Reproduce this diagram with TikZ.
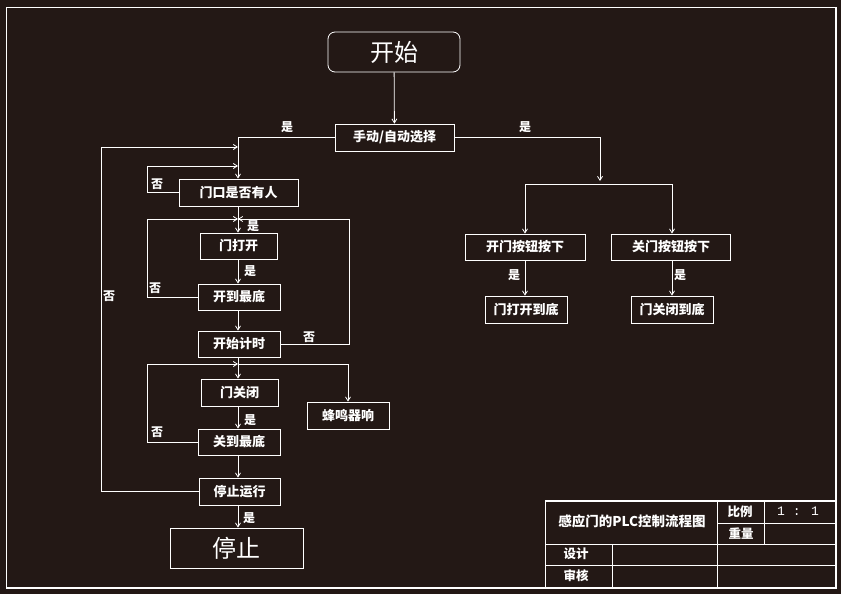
\documentclass[tikz,border=0pt]{standalone}
\usepackage{fontspec}
\setmainfont{Noto Sans CJK SC}
\newfontfamily\monof{Liberation Mono}
\usetikzlibrary{arrows.meta}
\definecolor{bg}{RGB}{35,24,21}
\begin{document}
\begin{tikzpicture}[x=1pt,y=-1pt,line width=0.8pt,white,
  box/.style={draw,line width=0.8pt,inner sep=0pt,text=white,
    font=\fontsize{13}{15}\selectfont\bfseries},
  lbl/.style={inner sep=0pt,text=white,font=\fontsize{12}{14}\selectfont\bfseries},
  tb/.style={inner sep=0pt,text=white,font=\fontsize{12.5}{14}\selectfont\bfseries},
  arr/.style={-{Straight Barb[length=4pt,width=5pt]}}]
\fill[bg] (0,0) rectangle (841,594);
\useasboundingbox (0,0) rectangle (841,594);
\draw[line width=1.5pt] (6.5,7.5) rectangle (836,588);

% nodes
\node[box,rounded corners=7pt,minimum width=132,minimum height=40,
  font=\fontsize{24}{26}\selectfont] (start) at (394,52) {开始};
\node[box,minimum width=119,minimum height=27] (sel) at (394.5,137.5) {手动/自动选择};
\node[box,minimum width=119,minimum height=27] (door) at (238.5,192.5) {门口是否有人};
\node[box,minimum width=77,minimum height=26] (open) at (238.5,246) {门打开};
\node[box,minimum width=82,minimum height=26] (obot) at (239,297) {开到最底};
\node[box,minimum width=82,minimum height=26] (timer) at (239,344) {开始计时};
\node[box,minimum width=77,minimum height=27] (close) at (239.5,392.5) {门关闭};
\node[box,minimum width=82,minimum height=27] (buzz) at (348,415.5) {蜂鸣器响};
\node[box,minimum width=82,minimum height=26] (cbot) at (239,442) {关到最底};
\node[box,minimum width=81,minimum height=27] (run) at (239.5,491.5) {停止运行};
\node[box,minimum width=133,minimum height=40,
  font=\fontsize{24}{26}\selectfont] (stop) at (236.5,548) {停止};
\node[box,minimum width=120,minimum height=26] (obtn) at (525,247) {开门按钮按下};
\node[box,minimum width=119,minimum height=26] (cbtn) at (671,247) {关门按钮按下};
\node[box,minimum width=82,minimum height=27] (oend) at (526,309.5) {门打开到底};
\node[box,minimum width=82,minimum height=27] (cend) at (672,309.5) {门关闭到底};

% coordinates
\coordinate (c1) at (238,137.5);
\coordinate (c2) at (238,147);
\coordinate (c3) at (238,166);
\coordinate (c4) at (238,219);
\coordinate (c5) at (238,364);
\coordinate (r1) at (600,137.5);
\coordinate (r2) at (600,181);
\coordinate (r3) at (525,184);
\coordinate (r4) at (672,184);
\coordinate (l1) at (101,491.5);
\coordinate (l2) at (101,147);
\coordinate (m1) at (147,192.5);
\coordinate (m2) at (147,166);
\coordinate (n1) at (147,297);
\coordinate (n2) at (147,219);
\coordinate (p1) at (349,344);
\coordinate (p2) at (349,219);
\coordinate (q1) at (147,442);
\coordinate (q2) at (147,364);
\coordinate (s1) at (348,364);

% connectors
\draw[arr] (start) -- (sel);
\draw[arr] (sel.west) -- (c1) -- (c1 |- door.north);
\draw[arr] (run.west) -- (l1) -- (l2) -- (c2);
\draw[arr] (door.west) -- (m1) -- (m2) -- (c3);
\draw[arr] (door.south -| c1) -- (c1 |- open.north);
\draw[arr] (obot.west) -- (n1) -- (n2) -- (c4);
\draw[arr] (timer.east) -- (p1) -- (p2) -- (c4);
\draw[arr] (open.south -| c1) -- (c1 |- obot.north);
\draw[arr] (obot.south -| c1) -- (c1 |- timer.north);
\draw[arr] (timer.south -| c1) -- (c1 |- close.north);
\draw[arr] (c5) -- (s1) -- (buzz.north);
\draw[arr] (cbot.west) -- (q1) -- (q2) -- (c5);
\draw[arr] (close.south -| c1) -- (c1 |- cbot.north);
\draw[arr] (cbot.south -| c1) -- (c1 |- run.north);
\draw[arr] (run.south -| c1) -- (c1 |- stop.north);
\draw[arr] (sel.east) -- (r1) -- (r2);
\draw (r3) -- (r4);
\draw[arr] (r3) -- (obtn.north);
\draw[arr] (r4) -- (r4 |- cbtn.north);
\draw[arr] (obtn.south -| r3) -- (r3 |- oend.north);
\draw[arr] (cbtn.south -| r4) -- (r4 |- cend.north);

% labels
\node[lbl] (y1) at (287,127) {是};
\node[lbl] (y2) at (525,127) {是};
\node[lbl] (n01) at (157,184) {否};
\node[lbl] (y3) at (253,226) {是};
\node[lbl] (y4) at (250,271) {是};
\node[lbl] (n02) at (155,288) {否};
\node[lbl] (n03) at (309,337) {否};
\node[lbl] (n04) at (109,296) {否};
\node[lbl] (y5) at (250,420) {是};
\node[lbl] (n05) at (157,432) {否};
\node[lbl] (y6) at (249,518) {是};
\node[lbl] (y7) at (514,275) {是};
\node[lbl] (y8) at (680,275) {是};

% title block
\draw (545,501) rectangle (836,587);
\draw[line width=1.6pt] (545,501) -- (836,501);
\draw (545,544) -- (836,544);
\draw (545,565) -- (836,565);
\draw (717,523) -- (836,523);
\draw (612,544) -- (612,587);
\draw (717,501) -- (717,587);
\draw (764,501) -- (764,544);
\node[tb,font=\fontsize{13.5}{15}\selectfont\bfseries] (t1) at (632,521) {感应门的PLC控制流程图};
\node[tb] (t2) at (740,512) {比例};
\node[tb,font=\fontsize{13}{15}\selectfont\monof] (t3) at (798,511) {1 : 1};
\node[tb] (t4) at (741,534) {重量};
\node[tb] (t5) at (576,554) {设计};
\node[tb] (t6) at (576,576) {审核};
\end{tikzpicture}
\end{document}
